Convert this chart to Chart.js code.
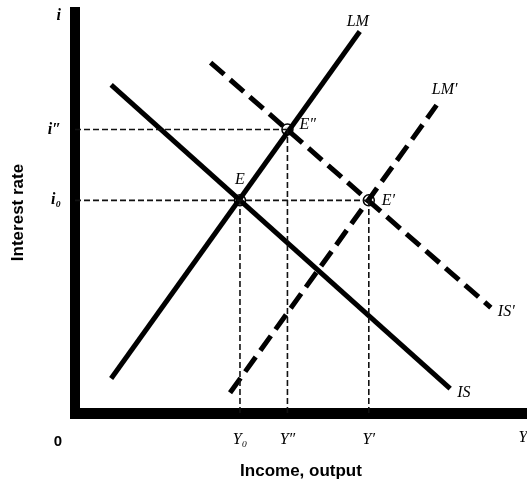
<!DOCTYPE html>
<html><head><meta charset="utf-8">
<script src="https://cdn.jsdelivr.net/npm/chart.js@4"></script>
<style>html,body{margin:0;padding:0;background:#fff;}canvas{display:block;}</style>
</head><body>
<canvas id="c" width="527" height="485"></canvas>
<script>
// ---- data ----
const xTickValues = [36.5, 47, 65];
const xTickLabels = ['Y\u2080', 'Y\u2033', 'Y\u2032'];
const xAxisEndValue = 99.1;
const xAxisEndLabel = 'Y';
const yTickValues = [52.5, 70, 98];
const yTickLabels = ['i\u2080', 'i\u2033', 'i'];

const curveNames = ['IS', 'LM', 'IS\u2032', 'LM\u2032'];
const curveX = [[8, 83], [8, 63], [30, 92], [34.3, 80]];
const curveY = [[81, 6], [8.5, 94.2], [86.5, 26], [5, 76]];
const curveDashed = [false, false, true, true];

const eqNames = ['E', 'E\u2033', 'E\u2032'];
const eqX = [36.5, 47, 65];
const eqY = [52.5, 70, 52.5];

// guide lines: [x0,y0,x1,y1]
const guideH = [[0, 70, 47, 70], [0, 52.5, 65, 52.5]];
const guideV = [[36.5, 0, 36.5, 52.5], [47, 0, 47, 70], [65, 0, 65, 52.5]];

// ---- datasets ----
const datasets = [];
[...guideH, ...guideV].forEach(g => {
  datasets.push({
    data: [{x: g[0], y: g[1]}, {x: g[2], y: g[3]}],
    showLine: true, borderColor: '#111', borderWidth: 1.6,
    borderDash: [6, 3], pointRadius: 0, fill: false
  });
});
curveNames.forEach((n, i) => {
  datasets.push({
    label: n,
    data: [{x: curveX[i][0], y: curveY[i][0]}, {x: curveX[i][1], y: curveY[i][1]}],
    showLine: true, borderColor: '#000', borderWidth: 5,
    borderDash: curveDashed[i] ? [18, 8] : [], borderCapStyle: 'butt',
    pointRadius: 0, fill: false
  });
});
datasets.push({
  data: eqX.map((x, i) => ({x, y: eqY[i]})),
  pointStyle: 'circle', pointRadius: 5.5, pointBorderWidth: 1.5,
  pointBorderColor: '#000', pointBackgroundColor: 'rgba(255,255,255,0.85)', showLine: false
});
datasets.push({
  data: eqX.map((x, i) => ({x, y: eqY[i]})),
  pointStyle: 'circle', pointRadius: 2.2, pointBorderWidth: 1.2,
  pointBorderColor: '#000', pointBackgroundColor: 'rgba(0,0,0,0)', showLine: false
});

// stretch the x axis to the right edge of the canvas
const stretchPlugin = {
  id: 'stretch',
  afterLayout(chart) {
    const a = chart.chartArea;
    const d = chart.width - a.right;
    if (d > 0 && d < 20) {
      a.right += d; a.width += d;
      const x = chart.scales.x;
      x.right += d; x.width += d;
      x.configure();
    }
  }
};

const labelPlugin = {
  id: 'labels',
  afterDatasetsDraw(chart) {
    const {ctx, scales: {x, y}} = chart;
    ctx.save();
    ctx.fillStyle = '#000';
    ctx.textBaseline = 'middle';
    ctx.font = 'italic 16px "Liberation Serif", serif';
    const cOff = [[7, 4, 'left'], [-2, -10, 'center'], [7, 4, 'left'], [8, -15, 'center']];
    curveNames.forEach((n, i) => {
      const px = x.getPixelForValue(curveX[i][1]);
      const py = y.getPixelForValue(curveY[i][1]);
      ctx.textAlign = cOff[i][2];
      ctx.fillText(n, px + cOff[i][0], py + cOff[i][1]);
    });
    const eOff = [[0, -21, 'center'], [12, -5, 'left'], [13, 0, 'left']];
    eqNames.forEach((n, i) => {
      const px = x.getPixelForValue(eqX[i]);
      const py = y.getPixelForValue(eqY[i]);
      ctx.textAlign = eOff[i][2];
      ctx.fillText(n, px + eOff[i][0], py + eOff[i][1]);
    });
    // axis end label
    ctx.textAlign = 'center';
    ctx.textBaseline = 'top';
    ctx.fillText(xAxisEndLabel, x.getPixelForValue(xAxisEndValue), y.bottom + 17);
    // origin label
    ctx.textBaseline = 'middle';
    ctx.font = 'bold 15px "Liberation Sans Narrow", "Liberation Sans", sans-serif';
    ctx.fillText('0', x.getPixelForValue(0) - 17, 442);
    ctx.restore();
  }
};

new Chart(document.getElementById('c'), {
  type: 'scatter',
  data: {datasets},
  options: {
    responsive: false, animation: false,
    layout: {padding: {top: 12, right: 0, bottom: 0, left: 0}},
    plugins: {legend: {display: false}, tooltip: {enabled: false}},
    scales: {
      x: {
        type: 'linear', min: 0, max: 100,
        afterFit: s => { s.height = 72; s.paddingLeft = 0; s.paddingRight = 0; },
        afterBuildTicks: s => { s.ticks = xTickValues.map(v => ({value: v})); },
        grid: {display: true, color: 'rgba(0,0,0,0)', lineWidth: 0, drawTicks: false},
        border: {display: true, color: '#000', width: 11},
        ticks: {
          autoSkip: false, maxRotation: 0, padding: 17, color: '#000',
          font: {family: '"Liberation Serif", serif', style: 'italic', size: 16},
          callback: (v, i) => xTickLabels[i]
        },
        title: {
          display: true, text: 'Income, output', color: '#000',
          font: {family: '"Liberation Sans", Arial, sans-serif', weight: 'bold', size: 17},
          padding: {top: 0, bottom: 3}
        }
      },
      y: {
        type: 'linear', min: 0, max: 99,
        afterFit: s => { s.width = 75; s.paddingTop = 0; s.paddingBottom = 0; },
        afterBuildTicks: s => { s.ticks = yTickValues.map(v => ({value: v})); },
        grid: {display: true, color: 'rgba(0,0,0,0)', lineWidth: 0, drawTicks: false},
        border: {display: true, color: '#000', width: 10},
        ticks: {
          autoSkip: false, padding: 14, color: '#000',
          font: {family: '"Liberation Serif", serif', style: 'italic', size: 16, weight: 'bold'},
          callback: (v, i) => yTickLabels[i]
        },
        title: {
          display: true, text: 'Interest rate', color: '#000',
          font: {family: '"Liberation Sans", Arial, sans-serif', weight: 'bold', size: 17},
          padding: {top: 8, bottom: 0}
        }
      }
    }
  },
  plugins: [stretchPlugin, labelPlugin]
});
</script>
</body></html>
